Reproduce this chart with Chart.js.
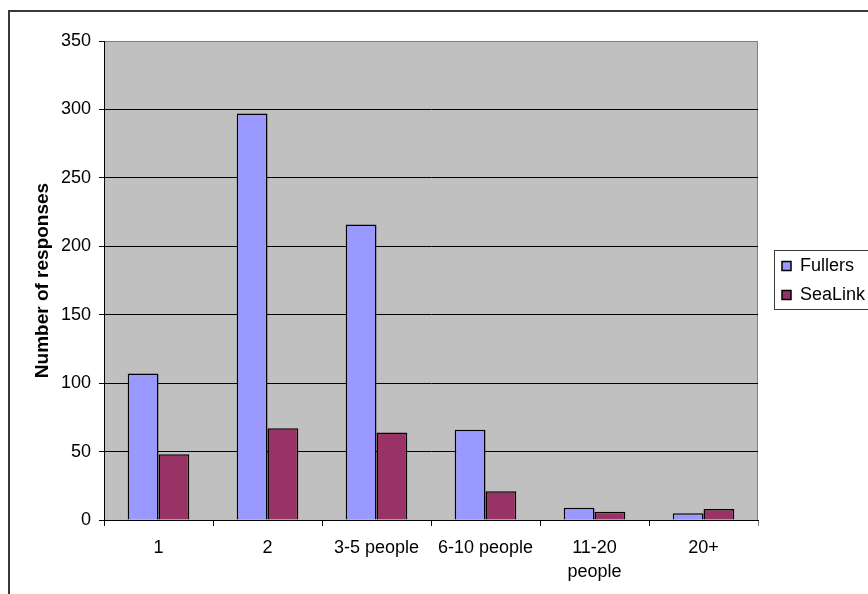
<!DOCTYPE html>
<html>
<head>
<meta charset="utf-8">
<script src="https://cdn.jsdelivr.net/npm/chart.js@4/dist/chart.umd.min.js"></script>
<style>
  html, body { margin: 0; padding: 0; background: #ffffff; }
  #wrap { width: 868px; height: 594px; }
</style>
</head>
<body>
<div id="wrap"><canvas id="chart" width="868" height="594"></canvas></div>
<script>
// Travel party size, number of responses per operator
const categories = ['1', '2', '3-5 people', '6-10 people', ['11-20', 'people'], '20+'];
const fullers = [107, 297, 216, 66, 9, 5];
const sealink = [48, 67, 64, 21, 6, 8];
const seriesNames = ['Fullers', 'SeaLink'];
const yTicks = [0, 50, 100, 150, 200, 250, 300, 350];
const yTitle = 'Number of responses';

Chart.defaults.font.family = '"Liberation Sans", Arial, sans-serif';
Chart.defaults.color = '#000000';

// Grey plot area, outer frame, right plot edge and the boxed legend
const chartDecor = {
  id: 'chartDecor',
  beforeDraw(chart) {
    const { ctx, chartArea: a } = chart;
    ctx.save();
    ctx.fillStyle = '#ffffff';
    ctx.fillRect(0, 0, chart.width, chart.height);

    ctx.strokeStyle = '#383838';
    ctx.lineWidth = 2;
    ctx.strokeRect(9, 11, chart.width + 40, chart.height + 40);

    ctx.fillStyle = '#c0c0c0';
    ctx.fillRect(a.left, a.top, a.right - a.left, a.bottom - a.top);

    ctx.strokeStyle = '#808080';
    ctx.lineWidth = 1;
    ctx.beginPath();
    ctx.moveTo(Math.round(a.right) - 0.5, a.top);
    ctx.lineTo(Math.round(a.right) - 0.5, a.bottom);
    ctx.stroke();

    const lg = chart.legend;
    if (lg && lg.legendHitBoxes && lg.legendHitBoxes.length) {
      const hb = lg.legendHitBoxes;
      const top = Math.round(hb[0].top - 7) + 0.5;
      const bottom = Math.round(hb[hb.length - 1].top + hb[hb.length - 1].height + 5) + 0.5;
      const left = Math.round(lg.left + 3) + 0.5;
      ctx.fillStyle = '#ffffff';
      ctx.fillRect(left, top, chart.width, bottom - top);
      ctx.strokeStyle = '#383838';
      ctx.strokeRect(left, top, chart.width + 20, bottom - top);
    }
    ctx.restore();
  }
};

new Chart(document.getElementById('chart'), {
  type: 'bar',
  data: {
    labels: categories,
    datasets: [
      {
        label: seriesNames[0],
        data: fullers,
        backgroundColor: '#9999ff',
        borderColor: '#000000',
        borderWidth: 1.5,
        categoryPercentage: 0.565,
        barPercentage: 1.0
      },
      {
        label: seriesNames[1],
        data: sealink,
        backgroundColor: '#993366',
        borderColor: '#000000',
        borderWidth: 1.5,
        categoryPercentage: 0.565,
        barPercentage: 1.0
      }
    ]
  },
  options: {
    responsive: false,
    animation: false,
    devicePixelRatio: 1,
    layout: { padding: { left: 27, top: 41, right: 0, bottom: 0 } },
    plugins: {
      title: { display: false },
      tooltip: { enabled: false },
      legend: {
        position: 'right',
        fullSize: false,
        maxWidth: 97,
        labels: {
          boxWidth: 9,
          boxHeight: 9,
          padding: 11,
          color: '#000000',
          font: { size: 18 }
        }
      }
    },
    scales: {
      x: {
        grid: {
          display: true,
          drawOnChartArea: false,
          drawTicks: true,
          tickLength: 6,
          offset: true,
          tickColor: (c) => (c.type === 'tick' ? '#000000' : '#808080')
        },
        border: { display: true, color: '#000000', width: 1 },
        ticks: {
          color: '#000000',
          font: { size: 18, lineHeight: 1.33 },
          padding: 10,
          maxRotation: 0,
          minRotation: 0,
          autoSkip: false
        },
        afterFit: (s) => { s.height = 74; }
      },
      y: {
        min: 0,
        max: 350,
        afterBuildTicks: (s) => { s.ticks = yTicks.map((v) => ({ value: v })); },
        grid: {
          color: (c) => (c.tick && c.tick.value === 350 ? '#808080' : '#000000'),
          tickColor: '#000000',
          tickLength: 5,
          drawTicks: true
        },
        border: { display: true, color: '#000000', width: 1 },
        ticks: {
          color: '#000000',
          font: { size: 18 },
          padding: 8
        },
        title: {
          display: true,
          text: yTitle,
          color: '#000000',
          font: { size: 19, weight: 'bold' },
          padding: { top: 4, bottom: 4 }
        },
        afterFit: (s) => { s.width = 77; }
      },
      gap: {
        type: 'linear',
        position: 'right',
        display: true,
        grid: { display: false },
        ticks: { display: false },
        border: { display: false },
        afterFit: (s) => { s.width = 13; }
      }
    }
  },
  plugins: [chartDecor]
});
</script>
</body>
</html>
